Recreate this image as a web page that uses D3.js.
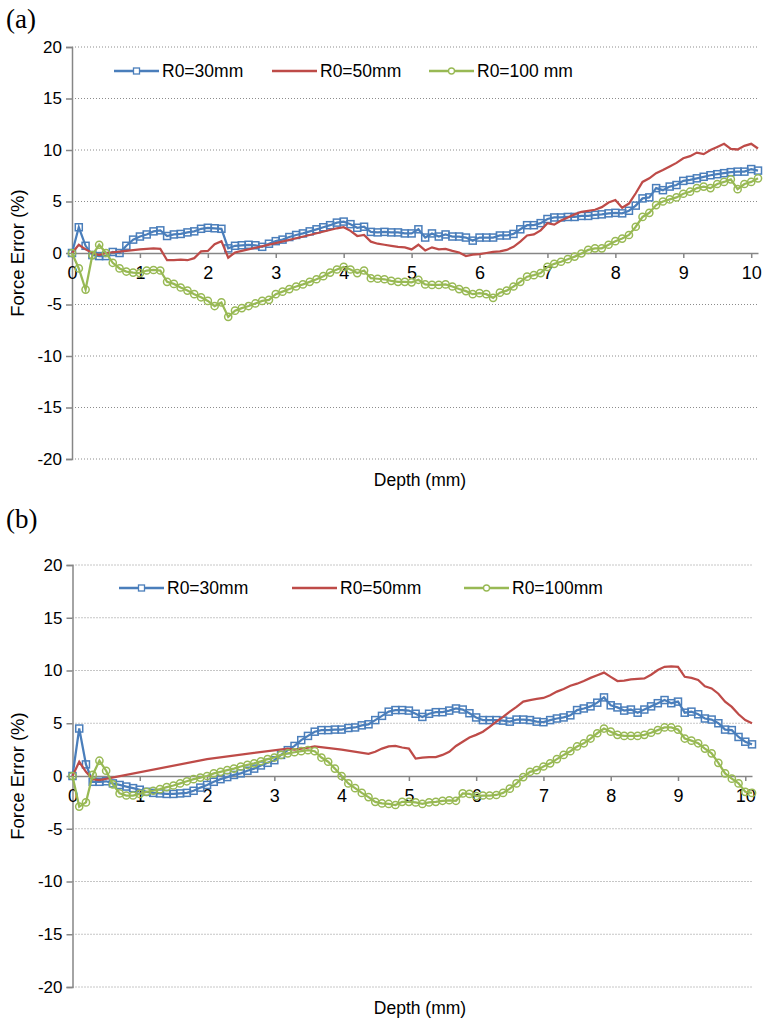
<!DOCTYPE html>
<html><head><meta charset="utf-8">
<script src="https://cdn.jsdelivr.net/npm/d3@7/dist/d3.min.js"></script>
<style>body{margin:0;background:#fff} text{font-family:"Liberation Sans",Arial,sans-serif}</style>
</head><body><svg id="c" width="763" height="1022"></svg>
<script>
// ---------- data ----------
const depth = [0,0.1,0.2,0.3,0.4,0.5,0.6,0.7,0.8,0.9,1.0,1.1,1.2,1.3,1.4,1.5,1.6,1.7,1.8,1.9,2.0,2.1,2.2,2.3,2.4,2.5,2.6,2.7,2.8,2.9,3.0,3.1,3.2,3.3,3.4,3.5,3.6,3.7,3.8,3.9,4.0,4.1,4.2,4.3,4.4,4.5,4.6,4.7,4.8,4.9,5.0,5.1,5.2,5.3,5.4,5.5,5.6,5.7,5.8,5.9,6.0,6.1,6.2,6.3,6.4,6.5,6.6,6.7,6.8,6.9,7.0,7.1,7.2,7.3,7.4,7.5,7.6,7.7,7.8,7.9,8.0,8.1,8.2,8.3,8.4,8.5,8.6,8.7,8.8,8.9,9.0,9.1,9.2,9.3,9.4,9.5,9.6,9.7,9.8,9.9,10.0,10.1];

// Panel (a)
const a_R30 = [0,2.5,0.7,-0.2,-0.3,-0.3,0.1,0,0.7,1.3,1.6,1.8,2.1,2.2,1.65,1.8,1.85,2.0,2.1,2.35,2.45,2.4,2.35,0.45,0.7,0.75,0.8,0.75,0.6,0.9,1.15,1.3,1.55,1.75,1.9,2.1,2.3,2.5,2.7,2.95,3.05,2.8,2.45,2.55,2.05,2.0,2.05,2.0,2.0,1.9,1.9,2.3,1.5,1.9,1.6,1.8,1.6,1.6,1.5,1.2,1.5,1.5,1.5,1.7,1.7,1.85,2.3,2.7,2.7,2.9,3.3,3.45,3.45,3.5,3.5,3.6,3.6,3.7,3.75,3.85,3.9,3.85,4.1,4.6,5.3,5.4,6.3,6.1,6.45,6.6,7.0,7.1,7.25,7.4,7.55,7.65,7.75,7.85,7.9,7.9,8.15,8.0];
const a_R50_depth = [0,0.1,0.2,0.3,0.4,0.5,0.8,1.0,1.2,1.3,1.4,1.5,1.6,1.7,1.8,1.9,2.0,2.1,2.2,2.3,2.4,2.5,3.0,3.5,3.9,4.0,4.1,4.2,4.3,4.4,4.5,4.6,4.7,4.8,4.9,5.0,5.1,5.2,5.3,5.4,5.5,5.6,5.7,5.8,5.9,6.0,6.1,6.2,6.3,6.4,6.5,6.6,6.7,6.8,6.9,7.0,7.1,7.2,7.3,7.4,7.5,7.6,7.7,7.8,7.9,8.0,8.1,8.2,8.3,8.4,8.5,8.6,8.7,8.8,8.9,9.0,9.1,9.2,9.3,9.4,9.5,9.6,9.7,9.8,9.9,10.0,10.1];
const a_R50 = [0,0.8,0.35,0,-0.2,0,0.2,0.35,0.45,0.4,-0.7,-0.7,-0.65,-0.7,-0.5,0.15,0.2,0.85,1.15,-0.45,0.05,0.2,0.95,1.75,2.4,2.5,2.15,1.65,1.75,1.1,0.9,0.8,0.7,0.6,0.55,0.35,0.8,0.25,0.55,0.35,0.4,0.2,0.05,-0.3,-0.15,-0.1,0,0.1,0.15,0.3,0.6,1.1,1.7,1.8,2.2,2.9,2.75,3.15,3.45,3.75,4.0,4.1,4.2,4.45,4.9,5.15,4.4,4.8,5.8,6.9,7.25,7.75,8.05,8.4,8.75,9.2,9.4,9.75,9.6,10.0,10.3,10.6,10.1,10.05,10.4,10.6,10.15];
const a_R100 = [0,-1.5,-3.55,-0.2,0.8,0,-0.95,-1.5,-1.8,-1.9,-1.95,-1.7,-1.65,-1.7,-2.8,-3.0,-3.35,-3.65,-4.0,-4.3,-4.65,-5.15,-4.8,-6.2,-5.6,-5.35,-5.15,-4.9,-4.65,-4.55,-4.0,-3.75,-3.5,-3.25,-3.05,-2.8,-2.55,-2.25,-1.9,-1.6,-1.35,-1.6,-1.95,-1.7,-2.45,-2.5,-2.55,-2.7,-2.8,-2.8,-2.85,-2.6,-3.05,-3.1,-3.1,-3.05,-3.25,-3.5,-3.7,-4.0,-3.9,-4.0,-4.35,-3.85,-3.65,-3.25,-2.8,-2.3,-2.15,-1.95,-1.35,-1.05,-0.85,-0.6,-0.35,-0.05,0.3,0.45,0.45,0.8,1.15,1.4,1.75,2.55,3.5,3.9,4.65,5.0,5.2,5.4,5.75,5.95,6.3,6.45,6.3,6.7,6.9,7.15,6.2,6.7,6.9,7.25];

// Panel (b)
const b_R30 = [0,4.5,1.1,-0.55,-0.55,-0.5,-0.7,-0.85,-1.0,-1.15,-1.3,-1.5,-1.6,-1.65,-1.7,-1.7,-1.65,-1.6,-1.4,-1.1,-0.85,-0.55,-0.3,-0.1,0.1,0.25,0.5,0.7,1.0,1.25,1.5,2.0,2.45,2.85,3.4,3.8,4.2,4.35,4.35,4.4,4.4,4.55,4.6,4.8,4.9,5.3,5.7,6.1,6.25,6.25,6.2,5.9,5.6,5.9,6.05,6.05,6.2,6.4,6.3,5.95,5.55,5.3,5.3,5.3,5.25,5.15,5.35,5.35,5.3,5.15,5.1,5.3,5.45,5.55,5.75,6.25,6.4,6.6,6.95,7.45,6.7,6.5,6.2,6.3,6.0,6.3,6.6,6.9,7.2,6.9,7.05,6.0,6.1,5.85,5.45,5.35,5.0,4.4,4.35,3.7,3.25,3.0];
const b_R50_depth = [0,0.1,0.2,0.3,0.4,2.0,3.2,3.3,3.4,3.5,3.6,4.0,4.4,4.5,4.6,4.7,4.8,4.9,5.0,5.1,5.2,5.3,5.4,5.5,5.6,5.7,5.8,5.9,6.0,6.1,6.2,6.3,6.4,6.5,6.6,6.7,6.8,6.9,7.0,7.1,7.2,7.3,7.4,7.5,7.6,7.7,7.8,7.9,8.0,8.1,8.2,8.3,8.4,8.5,8.6,8.7,8.8,8.9,9.0,9.1,9.2,9.3,9.4,9.5,9.6,9.7,9.8,9.9,10.0,10.1];
const b_R50 = [0,1.35,0.4,-0.3,-0.4,1.6,2.6,2.5,2.6,2.7,2.8,2.5,2.1,2.3,2.6,2.8,2.85,2.7,2.6,1.65,1.75,1.8,1.8,2.0,2.3,2.85,3.25,3.65,3.9,4.2,4.65,5.15,5.6,6.1,6.55,7.05,7.2,7.3,7.4,7.65,8.0,8.25,8.55,8.75,9.0,9.3,9.55,9.8,9.4,9.0,9.05,9.15,9.2,9.25,9.6,10.05,10.35,10.4,10.35,9.4,9.3,9.1,8.5,8.3,7.8,7.05,6.55,5.85,5.3,5.0];
const b_R100 = [0,-2.9,-2.5,0.1,1.45,0.5,-0.8,-1.65,-1.85,-1.85,-1.7,-1.5,-1.4,-1.25,-1.05,-0.9,-0.7,-0.5,-0.3,-0.15,0,0.25,0.4,0.55,0.7,0.9,1.05,1.2,1.4,1.6,1.75,2.0,2.15,2.25,2.35,2.45,2.35,1.75,1.35,0.7,0,-0.7,-1.15,-1.6,-2.0,-2.45,-2.6,-2.65,-2.75,-2.45,-2.45,-2.5,-2.65,-2.5,-2.45,-2.35,-2.3,-2.35,-1.65,-1.7,-1.9,-1.85,-1.85,-1.8,-1.6,-1.2,-0.7,-0.1,0.4,0.55,0.9,1.2,1.6,2.0,2.35,2.8,3.1,3.55,4.05,4.5,4.2,3.9,3.8,3.8,3.8,3.9,4.1,4.35,4.6,4.6,4.4,3.55,3.35,3.1,2.6,2.15,1.25,0.25,-0.25,-0.7,-1.5,-1.6];

const yTicks = [-20,-15,-10,-5,0,5,10,15,20];
const xTicks = [0,1,2,3,4,5,6,7,8,9,10];
const legendA = ["R0=30mm","R0=50mm","R0=100 mm"];
const legendB = ["R0=30mm","R0=50mm","R0=100mm"];

// ---------- drawing ----------
const COL = {blue:"#4A7EBB", red:"#BE4B48", green:"#98B954"};
const svg = d3.select("#c");

function panel(o){
  const g = svg.append("g");
  const x = d3.scaleLinear().domain([0,10.1]).range([o.left,o.right]);
  const y = d3.scaleLinear().domain([-20,20]).range([o.bottom,o.top]);

  // label (a)/(b)
  g.append("text").attr("x",6).attr("y",o.labelY).text(o.label)
    .style("font-family","'Liberation Serif','Times New Roman',serif").style("font-size","27px");

  // grid
  g.selectAll(".grid").data(yTicks.filter(v=>v!==0)).join("line")
    .attr("x1",o.left).attr("x2",o.right+1).attr("y1",d=>y(d)).attr("y2",d=>y(d))
    .attr("stroke","#8c8c8c").attr("stroke-width",1).attr("stroke-dasharray","1,2");

  // y axis
  const ya = d3.axisLeft(y).tickValues(yTicks).tickSize(6).tickPadding(4).tickFormat(d=>String(d));
  const yg = g.append("g").attr("transform",`translate(${o.left},0)`).call(ya);
  yg.select(".domain").attr("stroke","#868686").attr("stroke-width",1.5);
  yg.selectAll(".tick line").attr("stroke","#868686").attr("stroke-width",1.5);
  yg.selectAll(".tick text").style("font-size","17px").attr("fill","#000");

  // x axis at y=0
  const xa = d3.axisBottom(x).tickValues(xTicks).tickSize(5).tickPadding(8).tickSizeOuter(0).tickFormat(d=>String(d));
  const xg = g.append("g").attr("transform",`translate(0,${y(0)})`).call(xa);
  xg.select(".domain").attr("stroke","#868686").attr("stroke-width",1.5);
  xg.selectAll(".tick line").attr("stroke","#868686").attr("stroke-width",1.5);
  xg.selectAll(".tick text").style("font-size","18px").attr("fill","#000");

  // axis titles
  g.append("text").attr("x",420).attr("y",o.bottom+27).attr("text-anchor","middle")
    .style("font-size","17.5px").text("Depth (mm)");
  g.append("text").attr("transform",`translate(24,${(o.top+o.bottom)/2}) rotate(-90)`)
    .attr("text-anchor","middle").style("font-size","18.5px").text("Force Error (%)");

  const line = d3.line().x(d=>x(d[0])).y(d=>y(d[1]));
  const s1 = depth.map((d,i)=>[d,o.s30[i]]);
  const s2 = o.d50.map((d,i)=>[d,o.s50[i]]);
  const s3 = depth.map((d,i)=>[d,o.s100[i]]);

  // R0=30
  g.append("path").datum(s1).attr("d",line).attr("fill","none").attr("stroke",COL.blue).attr("stroke-width",2.25);
  g.selectAll(".sq").data(s1).join("rect").attr("x",d=>x(d[0])-3.5).attr("y",d=>y(d[1])-3.5)
    .attr("width",7).attr("height",7).attr("fill","none").attr("stroke",COL.blue).attr("stroke-width",1.5);
  // R0=50
  g.append("path").datum(s2).attr("d",line).attr("fill","none").attr("stroke",COL.red).attr("stroke-width",2.25);
  // R0=100
  g.append("path").datum(s3).attr("d",line).attr("fill","none").attr("stroke",COL.green).attr("stroke-width",2.25);
  g.selectAll(".ci").data(s3).join("circle").attr("cx",d=>x(d[0])).attr("cy",d=>y(d[1])).attr("r",3.6)
    .attr("fill","none").attr("stroke",COL.green).attr("stroke-width",1.5);

  // legend
  const L = o.legend, ly = o.legendY;
  const items = [
    {x:L[0],c:COL.blue,m:"sq",t:o.legendText[0]},
    {x:L[1],c:COL.red,m:null,t:o.legendText[1]},
    {x:L[2],c:COL.green,m:"ci",t:o.legendText[2]}];
  items.forEach(it=>{
    g.append("line").attr("x1",it.x).attr("x2",it.x+45).attr("y1",ly).attr("y2",ly)
      .attr("stroke",it.c).attr("stroke-width",2.5);
    if(it.m==="sq") g.append("rect").attr("x",it.x+22.5-3).attr("y",ly-3).attr("width",6).attr("height",6)
      .attr("fill","#fff").attr("stroke",it.c).attr("stroke-width",1.3);
    if(it.m==="ci") g.append("circle").attr("cx",it.x+22.5).attr("cy",ly).attr("r",3)
      .attr("fill","#fff").attr("stroke",it.c).attr("stroke-width",1.3);
    g.append("text").attr("x",it.x+48).attr("y",ly+6).style("font-size","17.5px").text(it.t);
  });
}

panel({label:"(a)",labelY:28,left:72,right:758,top:47,bottom:459,
  s30:a_R30,d50:a_R50_depth,s50:a_R50,s100:a_R100,
  legend:[114,272,429],legendY:71,legendText:legendA});
panel({label:"(b)",labelY:528,left:72.5,right:752,top:565,bottom:987,
  s30:b_R30,d50:b_R50_depth,s50:b_R50,s100:b_R100,
  legend:[119,292,464],legendY:588,legendText:legendB});
</script></body></html>
